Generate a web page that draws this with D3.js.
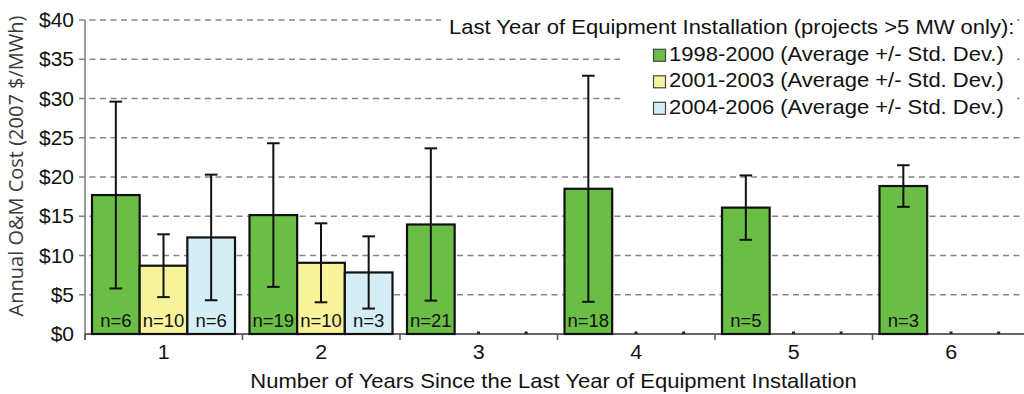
<!DOCTYPE html>
<html>
<head>
<meta charset="utf-8">
<script src="https://cdn.jsdelivr.net/npm/d3@7/dist/d3.min.js"></script>
<style>
  html, body { margin: 0; padding: 0; background: #fff; }
  svg { display: block; font-family: "Liberation Sans", Arial, sans-serif; }
</style>
</head>
<body>
<svg id="chart" width="1024" height="394"></svg>
<script>
// Years since last equipment installation (x categories)
const categories = ["1", "2", "3", "4", "5", "6"];

// Installation-period series
const seriesNames = ["1998-2000", "2001-2003", "2004-2006"];
const seriesColors = ["#6abd45", "#f7f39b", "#d5edf4"];

// Average annual O&M cost (2007 $/MWh)
const avg1998 = [17.7, 15.15, 13.95, 18.5, 16.1, 18.85];
const avg2001 = [8.7, 9.07, 0, 0, 0, 0];
const avg2004 = [12.3, 7.84, 0, 0, 0, 0];

// Standard deviations
const sd1998 = [11.9, 9.15, 9.7, 14.4, 4.1, 2.65];
const sd2001 = [4.0, 5.03, 0, 0, 0, 0];
const sd2004 = [8.0, 4.6, 0, 0, 0, 0];

// Sample counts
const n1998 = [6, 19, 21, 18, 5, 3];
const n2001 = [10, 10, null, null, null, null];
const n2004 = [6, 3, null, null, null, null];

// Y tick values and labels
const yTicks = [0, 5, 10, 15, 20, 25, 30, 35, 40];
const yTickLabels = ["$0", "$5", "$10", "$15", "$20", "$25", "$30", "$35", "$40"];

const legendTitle = "Last Year of Equipment Installation (projects >5 MW only):";
const legendLabels = seriesNames.map(s => s + " (Average +/- Std. Dev.)");

const avgs = [avg1998, avg2001, avg2004];
const sds = [sd1998, sd2001, sd2004];
const ns = [n1998, n2001, n2004];

const rows = [];
categories.forEach((c, i) => {
  seriesNames.forEach((s, j) => {
    rows.push({ cat: c, series: s, si: j, avg: avgs[j][i], sd: sds[j][i], n: ns[j][i] });
  });
});

const svg = d3.select("#chart");
const W = 1024;
const plotLeft = 85, plotTop = 20, plotBottom = 334;
// text in this chart is set slightly wide
const wide = 1.1;

const x0 = d3.scaleBand().domain(categories).range([plotLeft, 1030]).paddingInner(0).paddingOuter(0);
const x1 = d3.scaleBand().domain(seriesNames).range([7, 150]).padding(0);
const y = d3.scaleLinear().domain([0, 40]).range([plotBottom, plotTop]);

// Dashed horizontal gridlines (ticks included on the left)
svg.append("g").selectAll("line")
  .data(yTicks.filter(v => v > 0))
  .join("line")
  .attr("x1", plotLeft - 6).attr("x2", W)
  .attr("y1", d => y(d)).attr("y2", d => y(d))
  .attr("stroke", "#858585").attr("stroke-width", 1.5)
  .attr("stroke-dasharray", "6,4.5");

// Y axis line
svg.append("line")
  .attr("x1", plotLeft).attr("x2", plotLeft)
  .attr("y1", y(40)).attr("y2", plotBottom + 6)
  .attr("stroke", "#7a7a7a").attr("stroke-width", 1.5);

// Y tick labels
svg.append("g").selectAll("text")
  .data(yTicks)
  .join("text")
  .attr("transform", d => `translate(${plotLeft - 11},${y(d) + 7}) scale(1.05,1)`)
  .attr("text-anchor", "end")
  .attr("font-size", 20)
  .attr("fill", "#111")
  .text((d, i) => yTickLabels[i]);

// Y axis title
svg.append("text")
  .attr("transform", "translate(23,166) rotate(-90)")
  .attr("text-anchor", "middle")
  .attr("font-family", "'Open Sans', 'Noto Sans', sans-serif")
  .attr("font-size", 20)
  .attr("fill", "#3a3a3a")
  .text("Annual O&M Cost (2007 $/MWh)");

// X axis line
svg.append("line")
  .attr("x1", plotLeft).attr("x2", W)
  .attr("y1", plotBottom).attr("y2", plotBottom)
  .attr("stroke", "#333").attr("stroke-width", 1.5);

// Category boundary ticks
svg.append("g").selectAll("line")
  .data(categories)
  .join("line")
  .attr("x1", d => x0(d)).attr("x2", d => x0(d))
  .attr("y1", plotBottom).attr("y2", plotBottom + 6)
  .attr("stroke", "#555").attr("stroke-width", 1.5);

// X tick labels
svg.append("g").selectAll("text")
  .data(categories)
  .join("text")
  .attr("transform", d => `translate(${x0(d) + x0.bandwidth() / 2},359) scale(${wide},1)`)
  .attr("text-anchor", "middle")
  .attr("font-size", 19.5)
  .attr("fill", "#111")
  .text(d => d);

// X axis title
svg.append("text")
  .attr("transform", `translate(553.5,388) scale(${wide},1)`)
  .attr("text-anchor", "middle")
  .attr("font-size", 20)
  .attr("fill", "#111")
  .text("Number of Years Since the Last Year of Equipment Installation");

// Bars
const bx = d => x0(d.cat) + x1(d.series);
const bw = x1.bandwidth();
const present = rows.filter(d => d.n !== null);
const empty = rows.filter(d => d.n === null);

svg.append("g").selectAll("rect")
  .data(present)
  .join("rect")
  .attr("x", bx)
  .attr("y", d => y(d.avg))
  .attr("width", bw)
  .attr("height", d => y(0) - y(d.avg))
  .attr("fill", d => seriesColors[d.si])
  .attr("stroke", "#111")
  .attr("stroke-width", 2.2);

// Zero-value markers on the axis
svg.append("g").selectAll("rect")
  .data(empty)
  .join("rect")
  .attr("x", d => bx(d) + bw / 2 - 1.5)
  .attr("y", d => y(d.avg) - 2.5)
  .attr("width", 3).attr("height", 2.5)
  .attr("fill", "#222");

// Error bars
const eb = svg.append("g").attr("stroke", "#111").attr("stroke-width", 2);
present.forEach(d => {
  const cx = bx(d) + bw / 2;
  const hi = y(d.avg + d.sd), lo = y(d.avg - d.sd);
  eb.append("line").attr("x1", cx).attr("x2", cx).attr("y1", hi).attr("y2", lo);
  eb.append("line").attr("x1", cx - 6.3).attr("x2", cx + 6.3).attr("y1", hi).attr("y2", hi);
  eb.append("line").attr("x1", cx - 6.3).attr("x2", cx + 6.3).attr("y1", lo).attr("y2", lo);
});

// Sample count labels
svg.append("g").selectAll("text")
  .data(present)
  .join("text")
  .attr("x", d => bx(d) + bw / 2)
  .attr("y", plotBottom - 7)
  .attr("text-anchor", "middle")
  .attr("font-size", 18.5)
  .attr("fill", "#111")
  .text(d => "n=" + d.n);

// Legend
const lg = svg.append("g");
lg.append("rect").attr("x", 441).attr("y", 12).attr("width", 576).attr("height", 26).attr("fill", "#fff");
lg.append("rect").attr("x", 620).attr("y", 41).attr("width", 397).attr("height", 78).attr("fill", "#fff");
lg.append("text")
  .attr("transform", `translate(449,34) scale(${wide},1)`)
  .attr("font-size", 20)
  .attr("fill", "#111")
  .text(legendTitle);

const items = lg.selectAll("g.item")
  .data(legendLabels)
  .join("g")
  .attr("class", "item")
  .attr("transform", (d, i) => `translate(0,${60.8 + i * 26.5})`);
items.append("rect")
  .attr("x", 653.5).attr("y", -11.5)
  .attr("width", 12).attr("height", 12)
  .attr("fill", (d, i) => seriesColors[i])
  .attr("stroke", "#444").attr("stroke-width", 1.2);
items.append("text")
  .attr("transform", `translate(669,0) scale(${wide},1)`)
  .attr("font-size", 20)
  .attr("fill", "#111")
  .text(d => d);
</script>
</body>
</html>
